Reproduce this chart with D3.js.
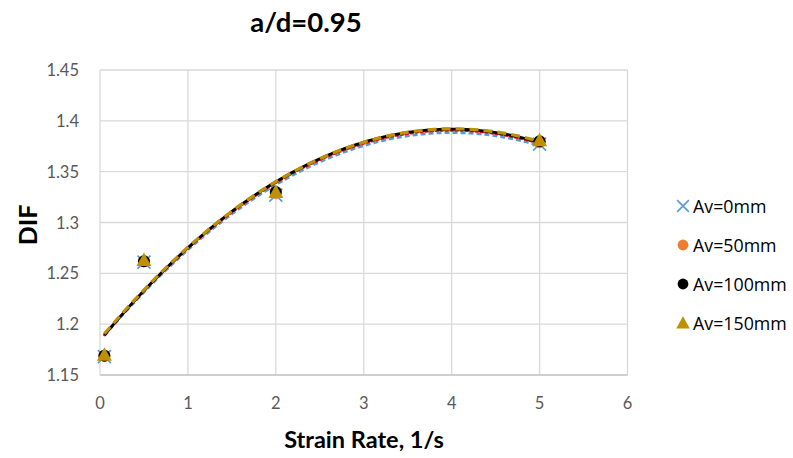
<!DOCTYPE html>
<html><head><meta charset="utf-8">
<script src="https://cdn.jsdelivr.net/npm/d3@7"></script>
<style>body{margin:0;background:#fff}svg{display:block}</style>
</head><body>
<svg id="c" width="793" height="458"></svg>
<script>
const title = "a/d=0.95";
const xLabel = "Strain Rate, 1/s";
const yLabel = "DIF";
const strainRates = [0.05, 0.5, 2, 5];
const seriesNames = ["Av=0mm", "Av=50mm", "Av=100mm", "Av=150mm"];
const difAv0   = [1.168, 1.261, 1.327, 1.377];
const difAv50  = [1.169, 1.262, 1.329, 1.379];
const difAv100 = [1.169, 1.262, 1.330, 1.380];
const difAv150 = [1.170, 1.263, 1.330, 1.381];
const xTicks = [0, 1, 2, 3, 4, 5, 6];
const yTicks = [1.15, 1.2, 1.25, 1.3, 1.35, 1.4, 1.45];
const colors = ["#5B9BD5", "#ED7D31", "#000000", "#BF9000"];
const lineColors = ["#5B9BD5", "#FF0000", "#000000", "#BF9000"];

const allSeries = [difAv0, difAv50, difAv100, difAv150];
const svg = d3.select("#c");
const m = {l: 100, r: 627.5, t: 70, b: 375};
const x = d3.scaleLinear().domain([0, 6]).range([m.l, m.r]);
const y = d3.scaleLinear().domain([1.15, 1.45]).range([m.b, m.t]);

// gridlines
const g = svg.append("g");
g.selectAll(".gx").data(xTicks.slice(1)).join("line")
  .attr("x1", d => x(d)).attr("x2", d => x(d)).attr("y1", m.t).attr("y2", m.b)
  .attr("stroke", "#d9d9d9").attr("stroke-width", 1.3);
g.selectAll(".gy").data(yTicks.slice(1)).join("line")
  .attr("x1", m.l).attr("x2", m.r).attr("y1", d => y(d)).attr("y2", d => y(d))
  .attr("stroke", "#d9d9d9").attr("stroke-width", 1.3);
g.append("line").attr("x1", m.l).attr("x2", m.r).attr("y1", m.b).attr("y2", m.b).attr("stroke", "#bfbfbf").attr("stroke-width", 1.5);
g.append("line").attr("x1", m.l).attr("x2", m.l).attr("y1", m.t).attr("y2", m.b).attr("stroke", "#d9d9d9").attr("stroke-width", 1.3);

// tick labels
const font = "Lato, 'Open Sans', sans-serif";
svg.append("g").selectAll("text").data(xTicks).join("text")
  .attr("x", d => x(d)).attr("y", 409).attr("text-anchor", "middle")
  .attr("font-family", font).attr("font-size", 16.5).attr("fill", "#595959")
  .text(d => d);
svg.append("g").selectAll("text").data(yTicks).join("text")
  .attr("x", 79).attr("y", d => y(d) + 6).attr("text-anchor", "end")
  .attr("font-family", font).attr("font-size", 16.5).attr("fill", "#595959")
  .text(d => d3.format("")(+d.toFixed(2)));

// titles
svg.append("text").attr("x", 306).attr("y", 32).attr("text-anchor", "middle")
  .attr("font-family", font).attr("font-weight", "bold").attr("font-size", 27.5).attr("fill", "#000").text(title);
svg.append("text").attr("x", 364).attr("y", 448).attr("text-anchor", "middle")
  .attr("font-family", font).attr("font-weight", "bold").attr("font-size", 23.5).attr("fill", "#000").text(xLabel);
svg.append("text").attr("transform", "translate(37,225) rotate(-90)").attr("text-anchor", "middle")
  .attr("font-family", font).attr("font-weight", "bold").attr("font-size", 25).attr("fill", "#000").text(yLabel);

// quadratic least-squares trendline
function polyFit(xs, ys) {
  let S = [0,0,0,0,0], T = [0,0,0];
  xs.forEach((xv, i) => {
    for (let k = 0; k < 5; k++) S[k] += Math.pow(xv, k);
    for (let k = 0; k < 3; k++) T[k] += Math.pow(xv, k) * ys[i];
  });
  const A = [[S[0],S[1],S[2],T[0]],[S[1],S[2],S[3],T[1]],[S[2],S[3],S[4],T[2]]];
  for (let i = 0; i < 3; i++) {
    for (let j = i + 1; j < 3; j++) {
      const f = A[j][i] / A[i][i];
      for (let k = i; k < 4; k++) A[j][k] -= f * A[i][k];
    }
  }
  const c = [0,0,0];
  for (let i = 2; i >= 0; i--) {
    let s = A[i][3];
    for (let k = i + 1; k < 3; k++) s -= A[i][k] * c[k];
    c[i] = s / A[i][i];
  }
  return xv => c[0] + c[1]*xv + c[2]*xv*xv;
}
const xs0 = d3.min(strainRates), xs1 = d3.max(strainRates);
const samples = d3.range(0, 101).map(i => xs0 + (xs1 - xs0) * i / 100);
const dashes = ["5,3", "2,3", null, "9,5"];
const widths = [2.8, 2.6, 2.8, 3.2];
const lineGen = d3.line().x(d => x(d[0])).y(d => y(d[1])).curve(d3.curveLinear);
allSeries.forEach((vals, si) => {
  const f = polyFit(strainRates, vals);
  svg.append("path").datum(samples.map(v => [v, f(v)]))
    .attr("d", lineGen).attr("fill", "none").attr("stroke", lineColors[si])
    .attr("stroke-width", widths[si]).attr("stroke-dasharray", dashes[si])
    .attr("stroke-linecap", si === 1 ? "round" : "butt");
});

// markers
function drawMarker(sel, si, cx, cy, legend) {
  const k = legend ? 0.9 : 1;
  if (si === 0) {
    const s = 6.5 * k;
    sel.append("path").attr("d", `M${cx-s},${cy-s}L${cx+s},${cy+s}M${cx-s},${cy+s}L${cx+s},${cy-s}`)
      .attr("stroke", colors[0]).attr("stroke-width", 1.7).attr("fill", "none");
  } else if (si === 3) {
    const s = 7.5 * k;
    sel.append("path").attr("d", `M${cx},${cy-s}L${cx+s},${cy+s*0.8}L${cx-s},${cy+s*0.8}Z`)
      .attr("fill", colors[3]);
  } else {
    sel.append("circle").attr("cx", cx).attr("cy", cy).attr("r", 6 * k).attr("fill", colors[si]);
  }
}
const mk = svg.append("g");
allSeries.forEach((vals, si) => {
  vals.forEach((v, i) => drawMarker(mk, si, x(strainRates[i]), y(v), false));
});

// legend
const lg = svg.append("g");
seriesNames.forEach((name, si) => {
  const ly = 206 + si * 39;
  drawMarker(lg, si, 683, ly, true);
  lg.append("text").attr("x", 693).attr("y", ly + 6.5)
    .attr("font-family", "'Open Sans', sans-serif").attr("font-size", 17.8).attr("fill", "#000").text(name);
});
</script>
</body></html>
